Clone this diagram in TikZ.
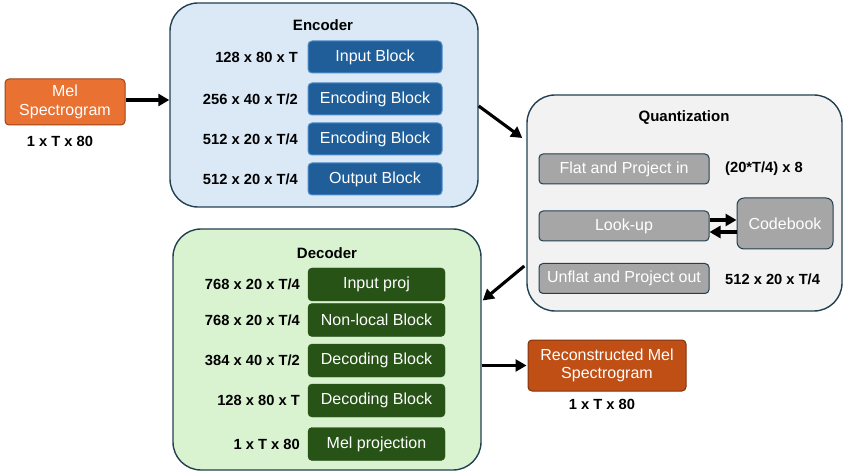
\documentclass[tikz,border=0pt]{standalone}
\usepackage{fontspec}
\setmainfont{Liberation Sans}
\usetikzlibrary{arrows.meta,positioning}

\definecolor{melor}{HTML}{E97132}
\definecolor{melline}{HTML}{9C4416}
\definecolor{recor}{HTML}{C04F15}
\definecolor{recline}{HTML}{7F3310}
\definecolor{encbg}{HTML}{DBE9F7}
\definecolor{encblk}{HTML}{1F5E99}
\definecolor{encedge}{HTML}{4F8DCB}
\definecolor{decbg}{HTML}{D9F2D0}
\definecolor{decblk}{HTML}{275317}
\definecolor{qbg}{HTML}{F2F2F2}
\definecolor{qblk}{HTML}{A6A6A6}
\definecolor{slate}{HTML}{22404F}

\begin{document}
\begin{tikzpicture}[
  x=1pt,y=-1pt,
  painel/.style={draw=slate,line width=1.4pt,rounded corners=28pt,inner sep=0pt},
  bloco/.style={align=center,rounded corners=4pt,text=white,inner sep=0pt,
    font=\fontsize{16}{18.5}\selectfont},
  encb/.style={bloco,fill=encblk,draw=encedge,line width=1pt,minimum width=134pt,minimum height=32pt},
  decb/.style={bloco,fill=decblk,draw=decblk,minimum width=137pt,minimum height=33pt},
  qb/.style={bloco,fill=qblk,draw=slate,line width=1pt,minimum width=170pt,minimum height=30pt},
  cabeca/.style={font=\fontsize{15}{17}\selectfont\bfseries},
  dim/.style={font=\fontsize{14.7}{16}\selectfont\bfseries,inner sep=0pt},
  flecha/.style={-{Triangle[length=11pt,width=12pt]},line width=3.1pt}
]
\useasboundingbox (0,0) rectangle (844,473);

% entrada
\node[bloco,fill=melor,draw=melline,line width=1pt,minimum width=120pt,minimum height=46pt] (mel) at (65,102)
  {Mel\\Spectrogram};
\node[dim] (meldim) at (60,141) {1 x T x 80};

% encoder
\node[painel,fill=encbg,minimum width=308pt,minimum height=204pt] (enc) at (324,105) {};
\node[cabeca] (enctit) at (323,25) {Encoder};
\node[encb] (inblk) at (375,57) {Input Block};
\node[encb] (encblk1) at (375,99) {Encoding Block};
\node[encb] (encblk2) at (375,139) {Encoding Block};
\node[encb] (outblk) at (375,179) {Output Block};
\node[dim,anchor=east] (edim1) at (298,57) {128 x 80 x T};
\node[dim,anchor=east] (edim2) at (298,99) {256 x 40 x T/2};
\node[dim,anchor=east] (edim3) at (298,139) {512 x 20 x T/4};
\node[dim,anchor=east] (edim4) at (298,179) {512 x 20 x T/4};

% quantization
\node[painel,fill=qbg,minimum width=315pt,minimum height=216pt] (quant) at (684.5,203) {};
\node[cabeca] (qtit) at (684,118) {Quantization};
\node[qb] (flat) at (624,169) {Flat and Project in};
\node[qb] (lookup) at (624,226) {Look-up};
\node[qb] (unflat) at (624,278.5) {Unflat and Project out};
\node[bloco,fill=qblk,draw=slate,line width=1pt,rounded corners=7pt,minimum width=96pt,minimum height=51pt] (codebook) at (785,223.5)
  {Codebook};
\node[dim,anchor=west] (qdim1) at (725,169) {(20*T/4) x 8};
\node[dim,anchor=west] (qdim2) at (725,279) {512 x 20 x T/4};

% decoder
\node[painel,fill=decbg,minimum width=308pt,minimum height=241pt] (dec) at (327,349.5) {};
\node[cabeca] (dectit) at (327,253) {Decoder};
\node[decb] (inproj) at (376.5,284.5) {Input proj};
\node[decb] (nonlocal) at (376.5,320) {Non-local Block};
\node[decb] (decblk1) at (376.5,360.5) {Decoding Block};
\node[decb] (decblk2) at (376.5,400.5) {Decoding Block};
\node[decb] (melproj) at (376.5,444) {Mel projection};
\node[dim,anchor=east] (ddim1) at (300,284.5) {768 x 20 x T/4};
\node[dim,anchor=east] (ddim2) at (300,320) {768 x 20 x T/4};
\node[dim,anchor=east] (ddim3) at (300,360.5) {384 x 40 x T/2};
\node[dim,anchor=east] (ddim4) at (300,400.5) {128 x 80 x T};
\node[dim,anchor=east] (ddim5) at (300,444) {1 x T x 80};

% saida
\node[bloco,fill=recor,draw=recline,line width=1pt,minimum width=158pt,minimum height=51pt] (recon) at (607,365.5)
  {Reconstructed Mel\\Spectrogram};
\node[dim] (recdim) at (602,404) {1 x T x 80};

\draw[flecha] ([yshift=2pt]mel.east) -- ([yshift=2pt]mel.east -| enc.west);
\draw[flecha] ([yshift=-1pt]enc.east) -- ([yshift=65pt,xshift=-4pt]quant.west);
\draw[flecha] ([yshift=-63pt,xshift=-2pt]quant.west) -- ([yshift=49pt,xshift=1pt]dec.east);
\draw[flecha] (dec.east |- recon.west) -- ([xshift=-1pt]recon.west);
\draw[flecha] ([yshift=6pt]lookup.east) -- ([yshift=6pt]lookup.east -| codebook.west);
\draw[flecha] ([yshift=-6pt]codebook.west |- lookup.east) -- ([yshift=-6pt]lookup.east);
\end{tikzpicture}
\end{document}
